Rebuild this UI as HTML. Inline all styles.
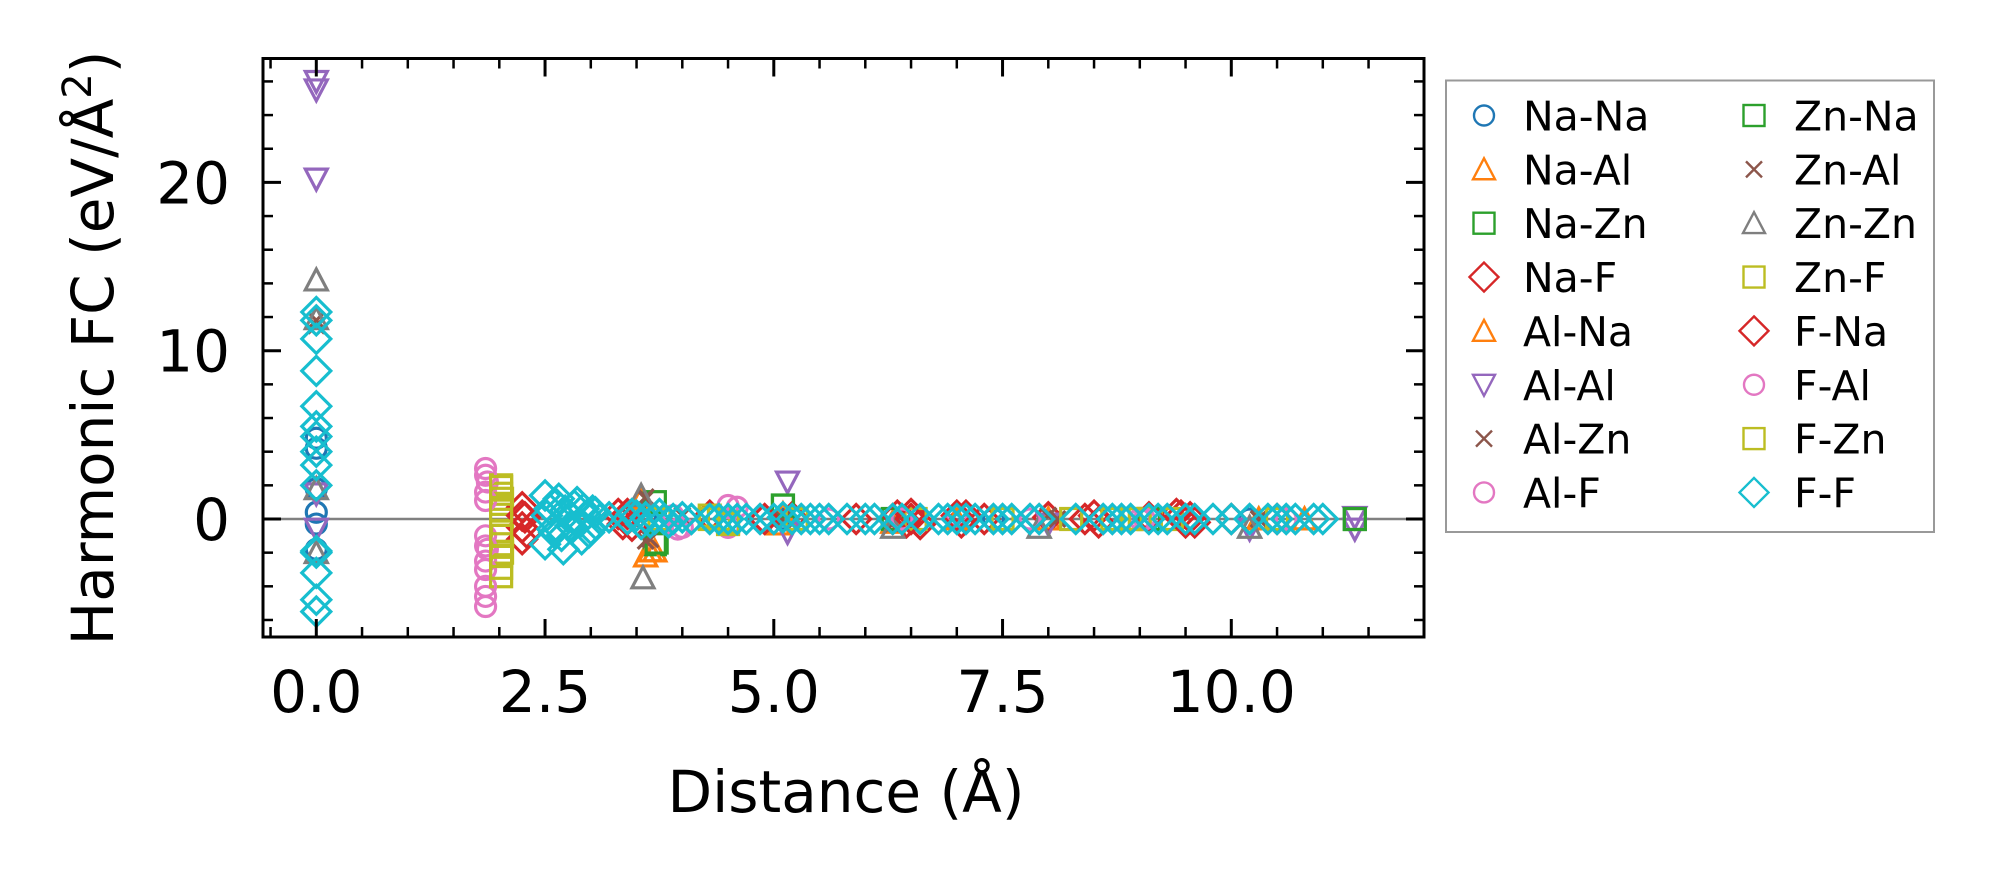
<!DOCTYPE html>
<html><head><meta charset="utf-8"><style>
html,body{margin:0;padding:0;background:#fff;}
svg{display:block;font-family:"DejaVu Sans","Liberation Sans",sans-serif;}
</style></head><body>
<svg id="chart" width="1994" height="883" viewBox="0 0 1994 883" xmlns="http://www.w3.org/2000/svg">
<rect x="0" y="0" width="1994" height="883" fill="#fff"/>
<g id="plot"></g>
<g id="axes"></g>
<text x="846" y="812" font-size="58" text-anchor="middle">Distance (Å)</text>
<text transform="translate(113,348) rotate(-90)" font-size="58" text-anchor="middle">Harmonic FC (eV/Å<tspan dy="-22" font-size="40">2</tspan><tspan dy="22">)</tspan></text>
<g id="legend"></g>
</svg>
<script>
const seriesNames = ["Na-Na","Na-Al","Na-Zn","Na-F","Al-Na","Al-Al","Al-Zn","Al-F","Zn-Na","Zn-Al","Zn-Zn","Zn-F","F-Na","F-Al","F-Zn","F-F"];
const seriesColors = ["#1f77b4","#ff7f0e","#2ca02c","#d62728","#ff7f0e","#9467bd","#8c564b","#e377c2","#2ca02c","#8c564b","#7f7f7f","#bcbd22","#d62728","#e377c2","#bcbd22","#17becf"];
const seriesMarkers = ["o","^","s","D","^","v","x","o","s","x","^","s","D","o","s","D"];
const xNaNa=[0,0,0,0,0,0,3.6,5.1,7.4,9.0,10.2];
const yNaNa=[4.8,4.2,1.8,0.4,-0.3,-1.8,0,0,0,0,0];
const xNaAl=[3.6,3.7,5.1,6.3,8.0,10.8];
const yNaAl=[-2.2,-1.9,0.3,-0.2,0,0];
const xNaZn=[3.7,5.1,6.3,9.1,11.35];
const yNaZn=[-1.5,0.8,0,0,0];
const xNaF=[2.25,2.25,2.25,2.28,3.4,3.45,4.3,5.2,5.9,6.5,6.6,7.1,7.3,8.0,8.5,9.4,9.6,10.0,6.35,6.45,7.05,8.55,9.45,9.55];
const yNaF=[0.7,-0.5,-1.2,0.1,0.3,-0.4,0.2,0.1,0,0.3,-0.3,0.2,0,0.1,0.2,0.3,-0.2,0,0.2,-0.2,-0.2,-0.2,0.2,0.1];
const xAlNa=[3.55,3.65,5.05,7.0,10.3];
const yAlNa=[1.2,-1.9,-0.3,0,0];
const xAlAl=[0,0,0,0,0,5.15,5.15,8.0,10.2,11.35,11.35];
const yAlAl=[26.0,25.5,20.2,1.5,-0.6,2.2,-0.8,-0.3,-0.6,0.1,-0.6];
const xAlZn=[0,3.6,3.65,4.0,5.1,8.1,10.3];
const yAlZn=[11.5,1.2,-1.2,0.2,0,0,0];
const xAlF=[1.85,1.85,1.85,1.85,1.85,1.87,1.87,3.9,4.0,4.5,5.6,7.0,9.0];
const yAlF=[3.0,1.6,-1.0,-2.5,-4.6,2.2,-1.8,0.2,-0.5,0.8,0,0.2,0];
const xZnNa=[3.7,3.72,5.1,11.35];
const yZnNa=[1.0,-1.4,0.8,0];
const xZnAl=[0,3.6,3.6,6.3,8.0,10.3];
const yZnAl=[11.8,1.3,-1.3,-0.3,0.2,0];
const xZnZn=[0,0,0,0,3.55,3.57,6.3,7.9,10.2];
const yZnZn=[14.2,11.9,1.8,-2.0,1.4,-3.5,-0.5,-0.5,-0.5];
const xZnF=[2.02,2.02,2.02,2.02,2.02,2.02,2.03,2.03,2.03,3.75,4.3,4.4,4.5,7.5,8.7,9.0,10.5,5.25,6.55,8.25,9.35];
const yZnF=[2.0,1.5,0.9,-0.7,-1.5,-3.4,1.2,-1.0,-2.0,0,0.2,0,-0.2,0,0,0,0,0,0,0,0];
const xFNa=[2.25,2.3,3.3,3.35,4.9,6.3,6.5,7.0,8.4,9.1,9.5,10.5];
const yFNa=[0.2,-0.8,0.3,-0.3,0,0,0,0.2,0,0.1,-0.2,0];
const xFAl=[1.85,1.85,1.85,1.85,1.85,1.85,3.95,4.5,4.6,6.4,7.8,9.05,10.6];
const yFAl=[2.6,1.1,-1.6,-3.0,-4.0,-5.2,-0.6,-0.5,0.7,0,0,0,0];
const xFZn=[2.02,2.02,2.02,2.02,2.02,4.3,4.5,8.9];
const yFZn=[1.9,0.5,-1.0,-2.2,-2.9,0,-0.3,0];
const xFF=[0,0,0,0,0,0,0,0,0,0,0,0,0,0,0,
2.5,2.5,2.52,2.55,2.58,2.6,2.62,2.65,2.68,2.7,2.72,2.75,2.78,2.8,2.82,2.85,2.88,2.9,2.92,2.95,2.98,3.0,3.02,3.05,3.1,3.2,3.4,3.45,3.5,3.55,3.6,3.65,3.7,3.75,3.8,3.85,3.9,4.0,4.1,4.3,4.4,4.5,4.6,4.7,4.85,5.0,5.1,5.2,5.3,5.4,5.5,5.6,5.8,6.0,6.1,6.3,6.4,6.6,6.8,6.9,7.0,7.1,7.2,7.4,7.5,7.6,7.8,7.9,8.3,8.6,8.7,8.8,8.9,9.1,9.2,9.3,9.5,9.6,9.8,10.0,10.2,10.4,10.5,10.6,10.7,10.9,11.0];
const yFF=[12.3,11.8,10.7,8.8,6.7,5.5,4.9,4.0,3.2,2.0,-1.9,-3.2,-4.8,-5.5,-2.0,
1.4,-1.5,0.2,0.6,-0.6,-0.8,0.9,1.2,-1.0,-1.8,0.5,0.3,-0.4,-0.5,0.8,1.0,-0.2,-1.2,0.6,0.2,-0.8,-0.6,0.5,0.4,0,0.1,0,0.3,0.2,-0.3,0.1,-0.2,0,0.3,0,-0.2,0,0.1,0,0,0,0,0,0,0,0,0.1,0,0,0,0,0,0,0,0,0,0,0,0,0,0,0,0,0,0,0,0,0,0,0,0,0,0,0,0,0,0,0,0,0,0,0,0,0,0,0,0];
const seriesX=[xNaNa,xNaAl,xNaZn,xNaF,xAlNa,xAlAl,xAlZn,xAlF,xZnNa,xZnAl,xZnZn,xZnF,xFNa,xFAl,xFZn,xFF];
const seriesY=[yNaNa,yNaAl,yNaZn,yNaF,yAlNa,yAlAl,yAlZn,yAlF,yZnNa,yZnAl,yZnZn,yZnF,yFNa,yFAl,yFZn,yFF];
const xTicks=[0,2.5,5,7.5,10];
const xTickLabels=["0.0","2.5","5.0","7.5","10.0"];
const yTicks=[0,10,20];
const yTickLabels=["0","10","20"];

const NS="http://www.w3.org/2000/svg";
const L=263,R=1424,T=58.5,B=637;
const X0=316.3,XS=91.5,Y0=519,YS=16.83;
function xs(v){return X0+v*XS;}
function ys(v){return Y0-v*YS;}
function mk(tag,attrs,parent){const e=document.createElementNS(NS,tag);for(const k in attrs)e.setAttribute(k,attrs[k]);parent.appendChild(e);return e;}

function marker(parent,m,cx,cy,color,sc,sw){
  let e;
  if(m==="o"){e=mk("circle",{cx:cx,cy:cy,r:10*sc},parent);}
  else if(m==="s"){const h=10.5*sc;e=mk("rect",{x:cx-h,y:cy-h,width:2*h,height:2*h},parent);}
  else if(m==="D"){const h=14.5*sc;e=mk("polygon",{points:`${cx},${cy-h} ${cx+h},${cy} ${cx},${cy+h} ${cx-h},${cy}`},parent);}
  else if(m==="^"){const h=11*sc;e=mk("polygon",{points:`${cx},${cy-h} ${cx+h},${cy+h*0.9} ${cx-h},${cy+h*0.9}`},parent);}
  else if(m==="v"){const h=11*sc;e=mk("polygon",{points:`${cx},${cy+h} ${cx+h},${cy-h*0.9} ${cx-h},${cy-h*0.9}`},parent);}
  else {const h=8*sc;e=mk("path",{d:`M${cx-h},${cy-h}L${cx+h},${cy+h}M${cx-h},${cy+h}L${cx+h},${cy-h}`},parent);}
  e.setAttribute("fill","none");e.setAttribute("stroke",color);e.setAttribute("stroke-width",sw);
  return e;
}

const plot=document.getElementById("plot");
const clip=mk("clipPath",{id:"pc"},plot);mk("rect",{x:L,y:T,width:R-L,height:B-T},clip);
const pg=mk("g",{"clip-path":"url(#pc)"},plot);
const zl=mk("line",{x1:L,x2:R,y1:ys(0),y2:ys(0),stroke:"#808080","stroke-width":2.5},pg);


for(let s=0;s<seriesNames.length;s++){
  const g=mk("g",{},pg);
  
  
  const xa=seriesX[s],ya=seriesY[s];
  for(let i=0;i<xa.length;i++){
    const p=marker(g,seriesMarkers[s],xs(xa[i]),ys(ya[i]),seriesColors[s],1,3.2);
    
    
  }
}

const ax=document.getElementById("axes");
const frame=mk("rect",{x:L,y:T,width:R-L,height:B-T,fill:"none",stroke:"#000","stroke-width":3},ax);


for(let k=-1;k<=23;k++){
  const v=k*0.5;const x=xs(v);if(x<L+2||x>R-2)continue;
  const major=(k%5===0);const len=major?18:10;
  mk("line",{x1:x,x2:x,y1:B,y2:B-len,stroke:"#000","stroke-width":major?3:2.5},ax);
  mk("line",{x1:x,x2:x,y1:T,y2:T+len,stroke:"#000","stroke-width":major?3:2.5},ax);
}
for(let k=-3;k<=13;k++){
  const v=k*2;const y=ys(v);if(y<T+2||y>B-2)continue;
  const major=(v%10===0);const len=major?18:10;
  mk("line",{x1:L,x2:L+len,y1:y,y2:y,stroke:"#000","stroke-width":major?3:2.5},ax);
  mk("line",{x1:R,x2:R-len,y1:y,y2:y,stroke:"#000","stroke-width":major?3:2.5},ax);
}
xTicks.forEach((v,i)=>{
  const t=mk("text",{x:xs(v),y:712,"font-size":58,"text-anchor":"middle"},ax);
  t.textContent=xTickLabels[i];
  
  
});
yTicks.forEach((v,i)=>{
  const t=mk("text",{x:230,y:ys(v)+21,"font-size":58,"text-anchor":"end"},ax);
  t.textContent=yTickLabels[i];
  
  
});

const lg=document.getElementById("legend");
const box=mk("rect",{x:1446,y:80.5,width:488,height:451.5,fill:"#fff",stroke:"#999","stroke-width":2},lg);


for(let s=0;s<seriesNames.length;s++){
  const col=Math.floor(s/8),row=s%8;
  const y=115.5+row*53.85;
  const mx=col?1754:1484,tx=col?1794:1523;
  const g=mk("g",{},lg);
  
  
  marker(g,seriesMarkers[s],mx,y,seriesColors[s],1,2.4);
  const t=mk("text",{x:tx,y:y+15,"font-size":41},g);
  t.textContent=seriesNames[s];
}
</script>
</body></html>
